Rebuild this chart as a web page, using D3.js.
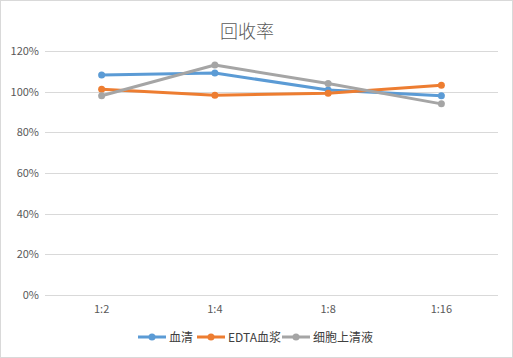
<!DOCTYPE html>
<html><head><meta charset="utf-8">
<script src="https://cdn.jsdelivr.net/npm/d3@7"></script>
<style>body{margin:0;background:#fff;}svg{display:block;font-family:"Microsoft YaHei","Noto Sans CJK SC","DejaVu Sans",sans-serif;}</style>
</head><body>
<script>
const categories = ["1:2","1:4","1:8","1:16"];
const seriesNames = ["血清","EDTA血浆","细胞上清液"];
const serum = [1.082, 1.092, 1.008, 0.980];
const edta = [1.012, 0.982, 0.992, 1.031];
const supernatant = [0.980, 1.131, 1.040, 0.940];
const yTicks = [0,0.2,0.4,0.6,0.8,1.0,1.2];
const colors = ["#5b9bd5","#ed7d31","#a5a5a5"];
const series = [serum, edta, supernatant];

const W=513,H=358;
const svg=d3.select("body").append("svg").attr("width",W).attr("height",H);
svg.append("rect").attr("x",0.5).attr("y",0.5).attr("width",W-1).attr("height",H-1).attr("fill","#fff").attr("stroke","#d9d9d9");

const x=d3.scaleBand().domain(categories).range([45,498]);
const y=d3.scaleLinear().domain([0,1.2]).range([295,51]);

svg.append("text").attr("x",247).attr("y",38).attr("text-anchor","middle").attr("font-size",18).attr("font-weight",300).attr("fill","#595959").text("回收率");

const grid=svg.append("g");
yTicks.forEach(t=>{
  grid.append("line").attr("x1",45).attr("x2",498).attr("y1",Math.round(y(t))+0.5).attr("y2",Math.round(y(t))+0.5).attr("stroke","#d9d9d9");
  grid.append("text").attr("x",39).attr("y",y(t)+4).attr("text-anchor","end").attr("font-size",11).attr("fill","#595959").text(d3.format(".0%")(t));
});
categories.forEach(c=>{
  svg.append("text").attr("x",x(c)+x.bandwidth()/2).attr("y",313).attr("text-anchor","middle").attr("font-size",11).attr("fill","#595959").text(c);
});

const line=d3.line().x((d,i)=>x(categories[i])+x.bandwidth()/2).y(d=>y(d));
series.forEach((s,k)=>{
  svg.append("path").datum(s).attr("d",line).attr("fill","none").attr("stroke",colors[k]).attr("stroke-width",3).attr("stroke-linejoin","round");
  svg.selectAll(null).data(s).enter().append("circle").attr("cx",(d,i)=>x(categories[i])+x.bandwidth()/2).attr("cy",d=>y(d)).attr("r",3.5).attr("fill",colors[k]);
});

const legX=[138,197,282];
seriesNames.forEach((n,k)=>{
  const g=svg.append("g").attr("transform",`translate(${legX[k]},337)`);
  g.append("line").attr("x1",0).attr("x2",28).attr("y1",0).attr("y2",0).attr("stroke",colors[k]).attr("stroke-width",3);
  g.append("circle").attr("cx",14).attr("cy",0).attr("r",3.5).attr("fill",colors[k]);
  g.append("text").attr("x",31).attr("y",4.5).attr("font-size",12).attr("fill","#404040").text(n);
});
</script>
</body></html>
